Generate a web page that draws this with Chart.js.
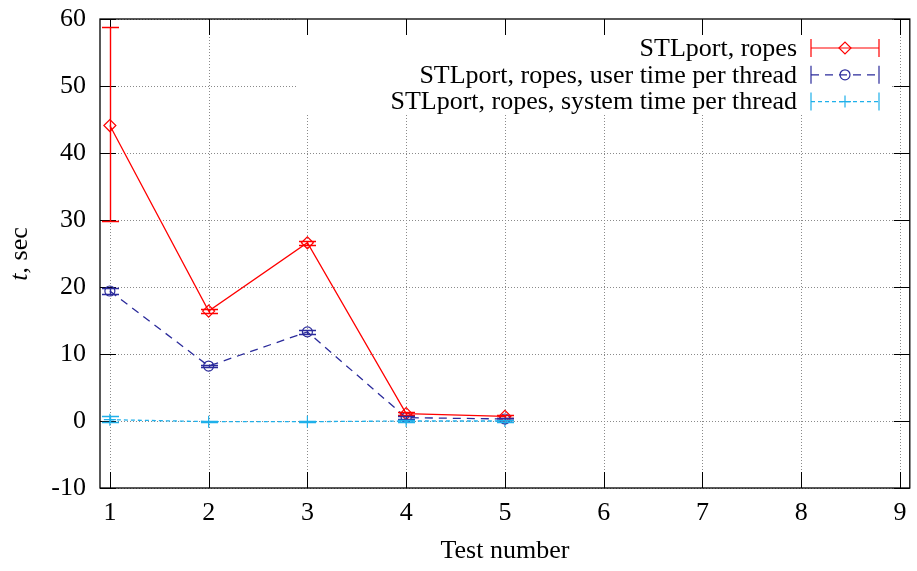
<!DOCTYPE html>
<html>
<head>
<meta charset="utf-8">
<script src="https://cdn.jsdelivr.net/npm/chart.js@4.4.1/dist/chart.umd.min.js"></script>
<style>
  body { margin: 0; background: #fff; }
  #wrap { width: 917px; height: 571px; }
</style>
</head>
<body>
<div id="wrap"><canvas id="timeChart"></canvas></div>
<script>
// values
const testNumbers = [1, 2, 3, 4, 5];
const ropesTime = [44.1, 16.4, 26.6, 1.1, 0.7];
const ropesLow  = [29.8, 16.15, 26.3, 0.9, 0.5];
const ropesHigh = [58.75, 16.65, 26.9, 1.3, 0.9];
const userTime = [19.4, 8.2, 13.3, 0.5, 0.3];
const userLow  = [18.9, 8.0, 13.0, 0.3, 0.2];
const userHigh = [19.9, 8.4, 13.6, 0.7, 0.4];
const sysTime = [0.2, -0.1, -0.1, 0.0, 0.0];
const sysLow  = [-0.1, -0.2, -0.2, -0.1, -0.1];
const sysHigh = [0.7, 0.0, 0.0, 0.1, 0.1];
const xTicks = [1, 2, 3, 4, 5, 6, 7, 8, 9];
const yTicks = [-10, 0, 10, 20, 30, 40, 50, 60];
const seriesLabels = [
    'STLport, ropes',
    'STLport, ropes, user time per thread',
    'STLport, ropes, system time per thread'
];

const serif = "'Liberation Serif', 'DejaVu Serif', serif";
const fontSize = 26;

function points(ys) {
    return testNumbers.map((x, i) => ({ x: x, y: ys[i] }));
}

const series = [
    { label: seriesLabels[0], values: ropesTime, low: ropesLow, high: ropesHigh,
      color: '#ff0000', dash: [], style: 'rectRot', radius: 6 },
    { label: seriesLabels[1], values: userTime, low: userLow, high: userHigh,
      color: '#2b2b9b', dash: [8, 6], style: 'circle', radius: 5 },
    { label: seriesLabels[2], values: sysTime, low: sysLow, high: sysHigh,
      color: '#1fb0ea', dash: [4, 3], style: 'cross', radius: 6 }
];

const legendBox = { left: 296, right: 892, top: 19, bottom: 113 };

const gnuplotFrame = {
    id: 'gnuplotFrame',
    beforeDatasetsDraw(chart) {
        const { ctx, chartArea: a, scales: { x, y } } = chart;
        ctx.save();
        ctx.strokeStyle = '#8a8a8a';
        ctx.lineWidth = 1;
        ctx.setLineDash([1, 2]);
        xTicks.forEach(v => {
            const px = Math.round(x.getPixelForValue(v)) + 0.5;
            ctx.beginPath(); ctx.moveTo(px, a.top); ctx.lineTo(px, a.bottom); ctx.stroke();
        });
        yTicks.forEach(v => {
            const py = Math.round(y.getPixelForValue(v)) + 0.5;
            ctx.beginPath(); ctx.moveTo(a.left, py); ctx.lineTo(a.right, py); ctx.stroke();
        });
        ctx.setLineDash([]);
        ctx.fillStyle = '#fff';
        ctx.fillRect(legendBox.left, legendBox.top, legendBox.right - legendBox.left,
            legendBox.bottom - legendBox.top);

        // border and inward ticks, under the data
        ctx.strokeStyle = '#000';
        ctx.lineWidth = 1.3;
        ctx.strokeRect(a.left, a.top, a.right - a.left, a.bottom - a.top);
        ctx.lineWidth = 1;
        ctx.beginPath();
        xTicks.forEach(v => {
            const px = Math.round(x.getPixelForValue(v)) + 0.5;
            ctx.moveTo(px, a.bottom); ctx.lineTo(px, a.bottom - 16);
            ctx.moveTo(px, a.top); ctx.lineTo(px, a.top + 16);
        });
        yTicks.forEach(v => {
            const py = Math.round(y.getPixelForValue(v)) + 0.5;
            ctx.moveTo(a.left, py); ctx.lineTo(a.left + 16, py);
            ctx.moveTo(a.right, py); ctx.lineTo(a.right - 16, py);
        });
        ctx.stroke();
        ctx.restore();
    },
    afterDatasetsDraw(chart) {
        const { ctx, scales: { x, y } } = chart;
        ctx.save();
        ctx.setLineDash([]);
        ctx.lineWidth = 1.4;

        // error bars
        series.forEach(s => {
            ctx.strokeStyle = s.color;
            testNumbers.forEach((t, i) => {
                const px = Math.round(x.getPixelForValue(t)) + 0.5;
                const lo = Math.round(y.getPixelForValue(s.low[i])) + 0.5;
                const hi = Math.round(y.getPixelForValue(s.high[i])) + 0.5;
                ctx.beginPath();
                ctx.moveTo(px, lo); ctx.lineTo(px, hi);
                ctx.moveTo(px - 8.5, lo); ctx.lineTo(px + 8.5, lo);
                ctx.moveTo(px - 8.5, hi); ctx.lineTo(px + 8.5, hi);
                ctx.stroke();
            });
        });

        // legend
        ctx.lineWidth = 1.2;
        ctx.font = fontSize + 'px ' + serif;
        ctx.textAlign = 'right';
        ctx.textBaseline = 'middle';
        series.forEach((s, i) => {
            const ry = 48 + i * 26.8;
            ctx.fillStyle = '#000';
            ctx.fillText(s.label, 797, ry + 1);
            ctx.strokeStyle = s.color;
            ctx.fillStyle = 'rgba(0,0,0,0)';
            ctx.setLineDash(s.dash);
            ctx.beginPath(); ctx.moveTo(811, ry); ctx.lineTo(879, ry); ctx.stroke();
            ctx.setLineDash([]);
            ctx.beginPath();
            ctx.moveTo(811, ry - 9); ctx.lineTo(811, ry + 9);
            ctx.moveTo(879, ry - 9); ctx.lineTo(879, ry + 9);
            ctx.stroke();
            Chart.helpers.drawPoint(ctx, { pointStyle: s.style, radius: s.radius, rotation: 0, borderWidth: 1.2 }, 845, ry);
        });

        // y title with italic t
        ctx.translate(20, 254);
        ctx.rotate(-Math.PI / 2);
        ctx.fillStyle = '#000';
        ctx.textAlign = 'left';
        ctx.font = 'italic ' + fontSize + 'px ' + serif;
        const wT = ctx.measureText('t').width;
        ctx.font = fontSize + 'px ' + serif;
        const wRest = ctx.measureText(', sec').width;
        const start = -(wT + wRest) / 2;
        ctx.font = 'italic ' + fontSize + 'px ' + serif;
        ctx.fillText('t', start, 0);
        ctx.font = fontSize + 'px ' + serif;
        ctx.fillText(', sec', start + wT, 0);
        ctx.restore();
    }
};

const ctx = document.getElementById('timeChart');
new Chart(ctx, {
    type: 'scatter',
    data: {
        datasets: series.map(s => ({
            label: s.label,
            data: points(s.values),
            showLine: true,
            borderColor: s.color,
            backgroundColor: 'rgba(0,0,0,0)',
            borderWidth: 1.3,
            borderDash: s.dash,
            pointStyle: s.style,
            pointRadius: s.radius,
            pointBorderWidth: 1.2,
            pointBorderColor: s.color,
            pointBackgroundColor: 'rgba(0,0,0,0)',
            tension: 0
        }))
    },
    options: {
        responsive: true,
        maintainAspectRatio: false,
        animation: false,
        layout: { padding: { top: 19, right: 5, left: 0, bottom: 0 } },
        plugins: {
            legend: { display: false },
            tooltip: { enabled: false }
        },
        scales: {
            x: {
                type: 'linear',
                min: 0.9,
                max: 9.1,
                grid: { display: false, drawTicks: false },
                border: { display: false },
                afterBuildTicks: s => { s.ticks = xTicks.map(v => ({ value: v })); },
                afterFit: s => { s.height = 83; s.paddingLeft = 0; s.paddingRight = 0; },
                ticks: {
                    color: '#000',
                    font: { family: serif, size: fontSize },
                    padding: 10,
                    maxRotation: 0,
                    autoSkip: false
                },
                title: {
                    display: true,
                    text: 'Test number',
                    color: '#000',
                    font: { family: serif, size: fontSize },
                    padding: { top: 0, bottom: 4 }
                }
            },
            y: {
                type: 'linear',
                min: -10,
                max: 60,
                grid: { display: false, drawTicks: false },
                border: { display: false },
                afterBuildTicks: s => { s.ticks = yTicks.map(v => ({ value: v })); },
                afterFit: s => { s.width = 100; s.paddingTop = 0; s.paddingBottom = 0; },
                ticks: {
                    color: '#000',
                    font: { family: serif, size: fontSize },
                    padding: 14,
                    autoSkip: false
                }
            }
        }
    },
    plugins: [gnuplotFrame]
});
</script>
</body>
</html>
